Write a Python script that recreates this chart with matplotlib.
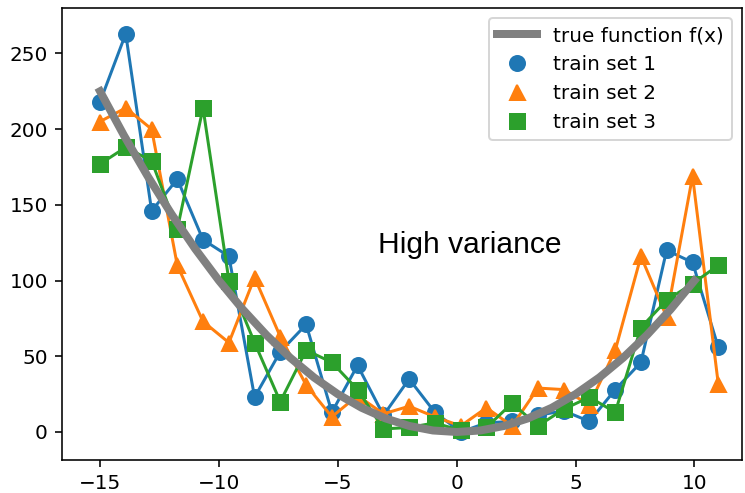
import matplotlib
matplotlib.use("Agg")
import matplotlib.pyplot as plt
from matplotlib.lines import Line2D

# sample positions shared by all three train sets
x_train = [-15.0, -13.92, -12.83, -11.75, -10.67, -9.58, -8.5, -7.42, -6.33,
           -5.25, -4.17, -3.08, -2.0, -0.92, 0.17, 1.25, 2.33, 3.42, 4.5,
           5.58, 6.67, 7.75, 8.83, 9.92, 11.0]

train_1 = [218, 263, 146, 167, 127, 116, 23, 53, 71, 13, 44, 11, 35, 13, 0,
           6, 7, 11, 14, 7, 28, 46, 120, 112, 56]
train_2 = [205, 214, 200, 110, 73, 59, 102, 63, 31, 10, 24, 12, 17, 10, 4,
           16, 4, 29, 28, 18, 54, 116, 76, 169, 32]
train_3 = [177, 188, 179, 134, 214, 100, 59, 20, 54, 46, 28, 2, 3, 6, 1,
           3, 19, 4, 15, 23, 13, 69, 87, 98, 110]

# true function f(x)
x_true = [-15, -14, -13, -12, -11, -10, -9, -8, -7, -6, -5, -4, -3, -2, -1,
          0, 1, 2, 3, 4, 5, 6, 7, 8, 9, 10]
y_true = [225, 196, 169, 144, 121, 100, 81, 64, 49, 36, 25, 16, 9, 4, 1,
          0, 1, 4, 9, 16, 25, 36, 49, 64, 81, 100]

series = [
    ("train set 1", train_1, "o", "#1f77b4"),
    ("train set 2", train_2, "^", "#ff7f0e"),
    ("train set 3", train_3, "s", "#2ca02c"),
]

fig = plt.figure(figsize=(745 / 144, 493 / 144), dpi=144)
ax = fig.add_axes([62 / 745, 1 - 460 / 493, 680 / 745, 452 / 493])

handles = []
true_line, = ax.plot(x_true, y_true, color="gray", lw=4, zorder=5,
                     label="true function f(x)")
handles.append(true_line)

for name, vals, mk, col in series:
    ax.plot(x_train, vals, "-", marker=mk, color=col, ms=7.5, lw=1.5, zorder=3)
    handles.append(Line2D([], [], ls="none", marker=mk, color=col, ms=7.5,
                          label=name))

ax.text(-3.3, 118, "High variance", fontsize=15, family="Liberation Sans")

ax.set_xlim(-16.6, 12.0)
ax.set_ylim(-18.5, 280)
ax.set_xticks([-15, -10, -5, 0, 5, 10])
ax.set_yticks([0, 50, 100, 150, 200, 250])
ax.legend(handles=handles, loc="upper right")

fig.savefig("out.png", dpi=144)
